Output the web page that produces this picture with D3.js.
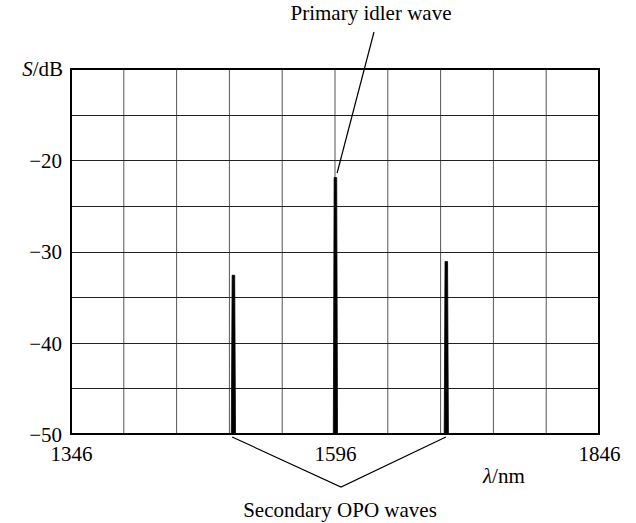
<!DOCTYPE html>
<html lang="en">
    <head>
        <meta charset="utf-8">
        <title>OPO spectrum</title>
        <script type="text/javascript" src="https://cdn.jsdelivr.net/npm/d3@7"></script>
        <style>
            body { margin: 0; background: #fff; }
            text { font-family: "Liberation Serif", "DejaVu Serif", serif; fill: #000; }
        </style>
    </head>
    <body>
        <script type="text/javascript">

            /* data */
            var xTickLabels = [1346, 1596, 1846];
            var yTickLabels = [-20, -30, -40, -50];
            var xGrid = [1346, 1396, 1446, 1496, 1546, 1596, 1646, 1696, 1746, 1796, 1846];
            var yGrid = [-10, -15, -20, -25, -30, -35, -40, -45, -50];
            // spectrum points: wavelength (nm), level (dB)
            var lambda = [1346, 1497.8, 1498.6, 1501.0, 1501.8, 1594.4, 1595.2, 1597.6, 1598.4, 1699.4, 1700.2, 1702.6, 1703.4, 1846];
            var level  = [-50,  -50,    -32.6,  -32.6,  -50,    -50,    -21.9,  -21.9,  -50,    -50,    -31.1,  -31.1,  -50,    -50];

            var w = 636;
            var h = 523;
            var svg = d3.select("body")
                        .append("svg")
                        .attr("width", w)
                        .attr("height", h);

            var xScale = d3.scaleLinear()
                            .domain([1346, 1846])
                            .range([71, 599]);
            var yScale = d3.scaleLinear()
                            .domain([-50, -10])
                            .range([434, 69]);

            // grid
            svg.append("g")
                .selectAll("line.v")
                .data(xGrid)
                .enter()
                .append("line")
                .attr("x1", function(d) { return xScale(d); })
                .attr("x2", function(d) { return xScale(d); })
                .attr("y1", yScale(-10))
                .attr("y2", yScale(-50))
                .attr("stroke", "#555")
                .attr("stroke-width", 1);
            svg.append("g")
                .selectAll("line.h")
                .data(yGrid)
                .enter()
                .append("line")
                .attr("x1", xScale(1346))
                .attr("x2", xScale(1846))
                .attr("y1", function(d) { return Math.round(yScale(d)) + 0.5; })
                .attr("y2", function(d) { return Math.round(yScale(d)) + 0.5; })
                .attr("stroke", "#222")
                .attr("stroke-width", 1);

            // spectrum
            var pts = lambda.map(function(d, i) { return [d, level[i]]; });
            var line = d3.line()
                        .x(function(d) { return xScale(d[0]); })
                        .y(function(d) { return yScale(d[1]); });
            svg.append("path")
                .datum(pts)
                .attr("d", line)
                .attr("fill", "#000")
                .attr("stroke", "#000")
                .attr("stroke-width", 0.8);

            // frame
            svg.append("rect")
                .attr("x", xScale(1346))
                .attr("y", yScale(-10))
                .attr("width", xScale(1846) - xScale(1346))
                .attr("height", yScale(-50) - yScale(-10))
                .attr("fill", "none")
                .attr("stroke", "#000")
                .attr("stroke-width", 2);

            // axes (labels only)
            var yAxis = d3.axisLeft(yScale)
                        .tickValues(yTickLabels)
                        .tickSize(0)
                        .tickPadding(9)
                        .tickFormat(function(d) { return "\u2212" + Math.abs(d); });
            var gy = svg.append("g")
                        .attr("transform", "translate(" + xScale(1346) + ",0)")
                        .call(yAxis);
            var xAxis = d3.axisBottom(xScale)
                        .tickValues(xTickLabels)
                        .tickSize(0)
                        .tickPadding(12)
                        .tickFormat(function(d) { return d; });
            var gx = svg.append("g")
                        .attr("transform", "translate(0," + yScale(-50) + ")")
                        .call(xAxis);
            [gx, gy].forEach(function(g) {
                g.select(".domain").remove();
                g.selectAll("text")
                    .attr("font-family", "Liberation Serif")
                    .attr("font-size", "21px")
                    .attr("fill", "#000");
            });
            gy.selectAll("text").attr("dy", "0.35em");

            // axis titles
            var yt = svg.append("text")
                        .attr("x", 63)
                        .attr("y", 76)
                        .attr("text-anchor", "end")
                        .attr("font-size", "21px");
            yt.append("tspan").attr("font-style", "italic").text("S");
            yt.append("tspan").text("/dB");

            var xt = svg.append("text")
                        .attr("x", 483)
                        .attr("y", 483)
                        .attr("font-size", "21px");
            xt.append("tspan").attr("font-style", "italic").text("\u03bb");
            xt.append("tspan").text("/nm");

            // annotations
            svg.append("text")
                .attr("x", 371)
                .attr("y", 20)
                .attr("text-anchor", "middle")
                .attr("font-size", "21px")
                .text("Primary idler wave");
            svg.append("line")
                .attr("x1", 374).attr("y1", 32)
                .attr("x2", xScale(1598)).attr("y2", 173)
                .attr("stroke", "#000")
                .attr("stroke-width", 1.2);

            svg.append("path")
                .attr("d", "M" + xScale(1498.6) + "," + 437 + " L341,487 L" + xScale(1701) + "," + 437)
                .attr("fill", "none")
                .attr("stroke", "#000")
                .attr("stroke-width", 1.2);
            svg.append("text")
                .attr("x", 340)
                .attr("y", 517)
                .attr("text-anchor", "middle")
                .attr("font-size", "21px")
                .text("Secondary OPO waves");
        </script>
    </body>
</html>
